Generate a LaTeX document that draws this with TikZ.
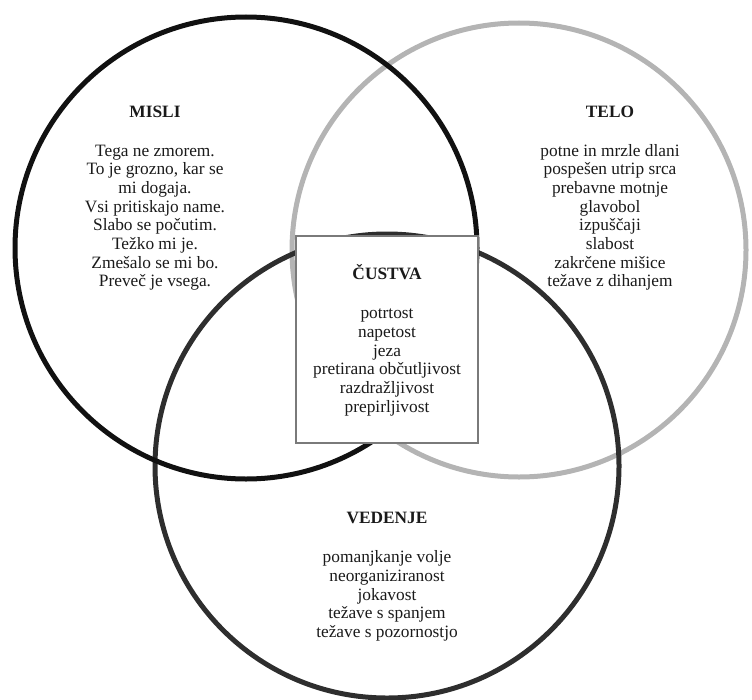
\documentclass[tikz,border=0pt]{standalone}
\usepackage{fontspec}
\setmainfont{Liberation Serif}
\usetikzlibrary{positioning}
\definecolor{KrogCrn}{HTML}{111111}
\definecolor{KrogSiv}{HTML}{B4B4B4}
\definecolor{KrogTemen}{HTML}{2E2E2E}
\definecolor{Besedilo}{HTML}{1A1A1A}
\definecolor{Rob}{HTML}{7A7A7A}

\begin{document}
\begin{tikzpicture}[
  x=0.75pt, y=-0.75pt,
  node distance=19pt,
  % --- krogi in okvir ---
  krog/.style={circle, line width=3.75pt, inner sep=0pt, outer sep=0pt},
  okvir/.style={draw=Rob, line width=1pt, fill=white, inner sep=0pt,
    minimum width=136.5pt, minimum height=155.25pt},
  % --- besedilo ---
  naslov/.style={font=\fontsize{13}{14.25}\selectfont\bfseries, text=Besedilo,
    inner sep=0pt, anchor=base},
  seznam/.style={font=\fontsize{13}{14}\selectfont, text=Besedilo,
    align=center, inner sep=0pt},
]
\useasboundingbox (0,0) rectangle (752,699);

% =================== KROGI ===================
\node[krog, draw=KrogSiv, minimum size=340.5pt] (teloK) at (519,250) {};
\node[krog, draw=KrogTemen, minimum size=348pt] (vedenjeK) at (387,466) {};
\node[krog, draw=KrogCrn, minimum size=346.5pt] (misliK) at (246,248) {};

% presek v sredini
\node[okvir] (custvaO) at (387,339.5) {};

% =================== MISLI ===================
\node[naslov] (misliN) at (155,117) {MISLI};
\node[seznam, below=of misliN] (misliS)
  {\strut Tega ne zmorem.\\To je grozno, kar se\\mi dogaja.\\Vsi pritiskajo name.\\Slabo se počutim.\\Težko mi je.\\Zmešalo se mi bo.\\Preveč je vsega.};

% =================== TELO ===================
\node[naslov] (teloN) at (610,117) {TELO};
\node[seznam, below=of teloN] (teloS)
  {\strut potne in mrzle dlani\\pospešen utrip srca\\prebavne motnje\\glavobol\\izpuščaji\\slabost\\zakrčene mišice\\težave z dihanjem};

% =================== ČUSTVA ===================
\node[naslov] (custvaN) at (387,279.75) {ČUSTVA};
\node[seznam, below=of custvaN] (custvaS)
  {\strut potrtost\\napetost\\jeza\\pretirana občutljivost\\razdražljivost\\prepirljivost};

% =================== VEDENJE ===================
\node[naslov] (vedenjeN) at (387,523.75) {VEDENJE};
\node[seznam, below=of vedenjeN] (vedenjeS)
  {\strut pomanjkanje volje\\neorganiziranost\\jokavost\\težave s spanjem\\težave s pozornostjo};

\end{tikzpicture}
\end{document}
